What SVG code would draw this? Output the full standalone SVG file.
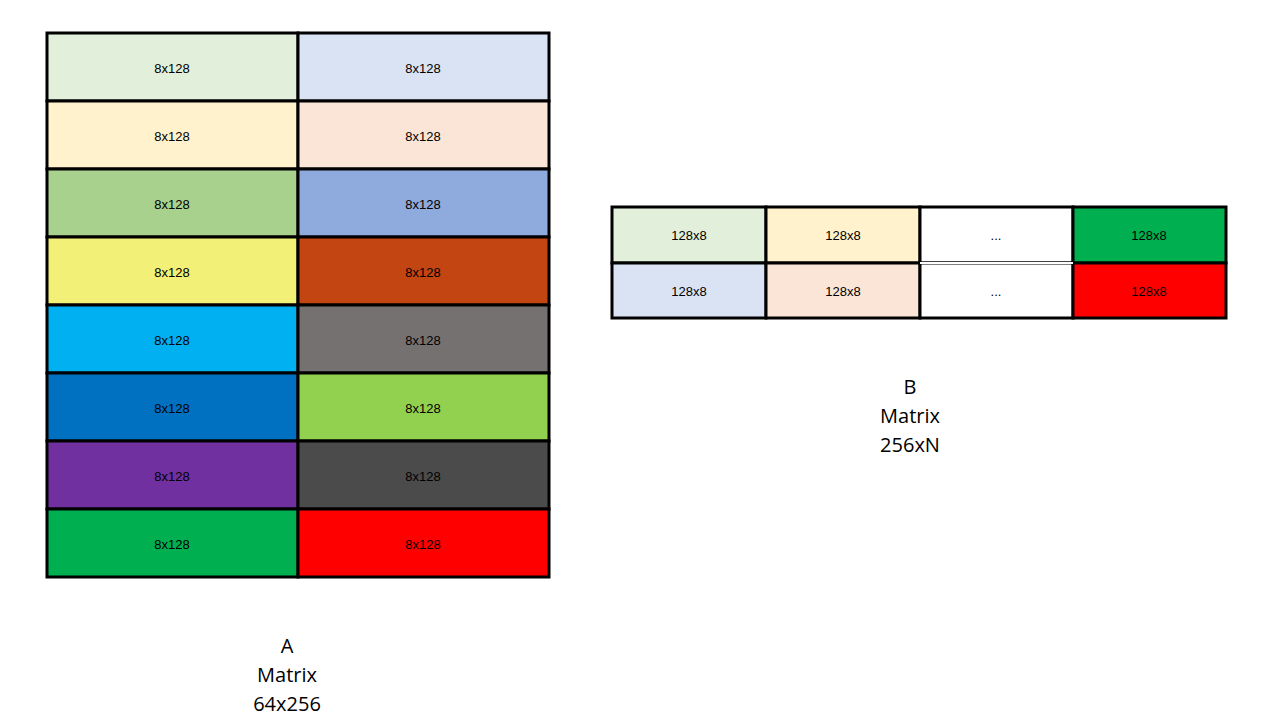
<svg xmlns="http://www.w3.org/2000/svg" width="1280" height="720" viewBox="0 0 1280 720">
<style>
rect{stroke:#000;stroke-width:3}
.c{font-family:"Liberation Sans",Arial,sans-serif;font-size:13px;text-anchor:middle;dominant-baseline:central;fill:#000}
.cap{font-family:"Open Sans","Liberation Sans",sans-serif;font-size:20px;text-anchor:middle;fill:#000}
</style>
<rect x="0" y="0" width="1280" height="720" fill="#fff" style="stroke:none"/>
<g id="matrixA">
<rect x="47" y="33" width="251" height="68" fill="#E2EFDA"/><rect x="298" y="33" width="251" height="68" fill="#DAE3F3"/>
<rect x="47" y="101" width="251" height="68" fill="#FFF2CC"/><rect x="298" y="101" width="251" height="68" fill="#FBE5D6"/>
<rect x="47" y="169" width="251" height="68" fill="#A9D18E"/><rect x="298" y="169" width="251" height="68" fill="#8FAADC"/>
<rect x="47" y="237" width="251" height="68" fill="#F2F076"/><rect x="298" y="237" width="251" height="68" fill="#C24512"/>
<rect x="47" y="305" width="251" height="68" fill="#00B0F0"/><rect x="298" y="305" width="251" height="68" fill="#767171"/>
<rect x="47" y="373" width="251" height="68" fill="#0070C0"/><rect x="298" y="373" width="251" height="68" fill="#92D050"/>
<rect x="47" y="441" width="251" height="68" fill="#7030A0"/><rect x="298" y="441" width="251" height="68" fill="#4B4B4B"/>
<rect x="47" y="509" width="251" height="68" fill="#00B050"/><rect x="298" y="509" width="251" height="68" fill="#FF0000"/>
<text class="c" x="172" y="68">8x128</text><text class="c" x="423" y="68">8x128</text>
<text class="c" x="172" y="136">8x128</text><text class="c" x="423" y="136">8x128</text>
<text class="c" x="172" y="204">8x128</text><text class="c" x="423" y="204">8x128</text>
<text class="c" x="172" y="272">8x128</text><text class="c" x="423" y="272">8x128</text>
<text class="c" x="172" y="340">8x128</text><text class="c" x="423" y="340">8x128</text>
<text class="c" x="172" y="408">8x128</text><text class="c" x="423" y="408">8x128</text>
<text class="c" x="172" y="476">8x128</text><text class="c" x="423" y="476">8x128</text>
<text class="c" x="172" y="544">8x128</text><text class="c" x="423" y="544">8x128</text>
<text class="cap" x="287" y="653">A</text><text class="cap" x="287" y="682">Matrix</text><text class="cap" x="287" y="711">64x256</text>
</g>
<g id="matrixB">
<rect x="612" y="207" width="154" height="56" fill="#E2EFDA"/><rect x="766" y="207" width="154" height="56" fill="#FFF2CC"/>
<rect x="920" y="207" width="153" height="56" fill="#fff"/><rect x="1073" y="207" width="153" height="56" fill="#00B050"/>
<rect x="612" y="263" width="154" height="55" fill="#DAE3F3"/><rect x="766" y="263" width="154" height="55" fill="#FBE5D6"/>
<rect x="920" y="263" width="153" height="55" fill="#fff"/><rect x="1073" y="263" width="153" height="55" fill="#FF0000"/>
<line x1="920" y1="263" x2="1073" y2="263" stroke="#fff" stroke-width="2"/>
<text class="c" x="689" y="235">128x8</text><text class="c" x="843" y="235">128x8</text><text class="c" x="996" y="235">...</text><text class="c" x="1149" y="235">128x8</text>
<text class="c" x="689" y="291">128x8</text><text class="c" x="843" y="291">128x8</text><text class="c" x="996" y="291">...</text><text class="c" x="1149" y="291">128x8</text>
<text class="cap" x="910" y="394">B</text><text class="cap" x="910" y="423">Matrix</text><text class="cap" x="910" y="452">256xN</text>
</g>
<g id="connectors"/>
</svg>
